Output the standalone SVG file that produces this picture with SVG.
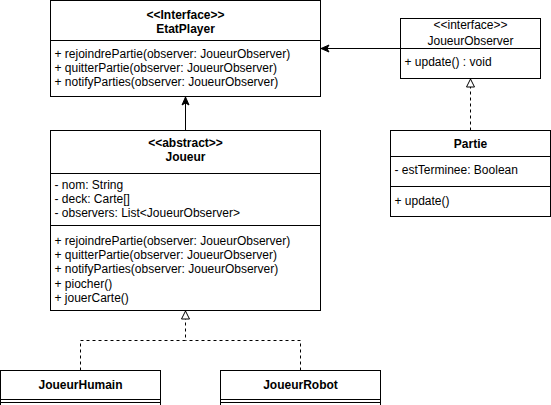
<svg xmlns="http://www.w3.org/2000/svg" width="551" height="405" viewBox="0 0 551 405">
<style>
  .box { fill: #ffffff; stroke: #000000; stroke-width: 1; }
  .sep { stroke: #000000; stroke-width: 1; fill: none; }
  text { font-family: "Liberation Sans", Arial, Helvetica, sans-serif; font-size: 12px; fill: #000000; }
  .c { text-anchor: middle; }
  .b { font-weight: bold; }
  .edge { fill: none; stroke: #000000; stroke-width: 1; }
  .dash { stroke-dasharray: 3 3; }
</style>
<defs>
  <marker id="arrow" markerUnits="userSpaceOnUse" markerWidth="10" markerHeight="10" viewBox="0 0 10 10" refX="9" refY="5" orient="auto">
    <path d="M1,1.5 L9,5 L1,8.5 L3,5 Z" fill="#000000" stroke="#000000" stroke-width="1" stroke-dasharray="none"/>
  </marker>
  <marker id="tri" markerUnits="userSpaceOnUse" markerWidth="12" markerHeight="12" viewBox="0 0 12 12" refX="10" refY="6" orient="auto">
    <path d="M2,2 L10,6 L2,10 Z" fill="#ffffff" stroke="#000000" stroke-width="1" stroke-dasharray="none"/>
  </marker>
</defs>

<g id="connectors">
  <path class="edge" d="M185.5,130.5 L185.5,97" marker-end="url(#arrow)"/>
  <path class="edge" d="M400.5,48.5 L321,48.5" marker-end="url(#arrow)"/>
  <path class="edge dash" d="M470.5,130.5 L470.5,79" marker-end="url(#tri)"/>
  <path class="edge dash" d="M80.5,370.5 L80.5,340.5 L185.5,340.5 L185.5,311" marker-end="url(#tri)"/>
  <path class="edge dash" d="M300.5,370.5 L300.5,340.5 L185.5,340.5"/>
</g>

<g id="EtatPlayer">
  <rect class="box" x="50.5" y="0.5" width="270" height="96"/>
  <line class="sep" x1="50.5" y1="40.5" x2="320.5" y2="40.5"/>
  <text class="c b" x="185.5" y="19">&lt;&lt;Interface&gt;&gt;</text>
  <text class="c b" x="185.5" y="33">EtatPlayer</text>
  <text x="54.5" y="57.5">+ rejoindrePartie(observer: JoueurObserver)</text>
  <text x="54.5" y="71.9">+ quitterPartie(observer: JoueurObserver)</text>
  <text x="54.5" y="86.3">+ notifyParties(observer: JoueurObserver)</text>
</g>

<g id="JoueurObserver">
  <rect class="box" x="400.5" y="18.5" width="140" height="60"/>
  <line class="sep" x1="400.5" y1="48.5" x2="540.5" y2="48.5"/>
  <text class="c" x="470.5" y="28.5">&lt;&lt;interface&gt;&gt;</text>
  <text class="c" x="470.5" y="45">JoueurObserver</text>
  <text x="404.5" y="66">+ update() : void</text>
</g>

<g id="Joueur">
  <rect class="box" x="50.5" y="130.5" width="270" height="180"/>
  <line class="sep" x1="50.5" y1="173.5" x2="320.5" y2="173.5"/>
  <line class="sep" x1="50.5" y1="225.5" x2="320.5" y2="225.5"/>
  <text class="c b" x="185.5" y="147">&lt;&lt;abstract&gt;&gt;</text>
  <text class="c b" x="185.5" y="161">Joueur</text>
  <text x="54.5" y="188.5">- nom: String</text>
  <text x="54.5" y="202.5">- deck: Carte[]</text>
  <text x="54.5" y="216.5">- observers: List&lt;JoueurObserver&gt;</text>
  <text x="54.5" y="244.5">+ rejoindrePartie(observer: JoueurObserver)</text>
  <text x="54.5" y="258.9">+ quitterPartie(observer: JoueurObserver)</text>
  <text x="54.5" y="273.3">+ notifyParties(observer: JoueurObserver)</text>
  <text x="54.5" y="287.7">+ piocher()</text>
  <text x="54.5" y="302.1">+ jouerCarte()</text>
</g>

<g id="Partie">
  <rect class="box" x="390.5" y="130.5" width="160" height="86"/>
  <line class="sep" x1="390.5" y1="156.5" x2="550.5" y2="156.5"/>
  <line class="sep" x1="390.5" y1="186.5" x2="550.5" y2="186.5"/>
  <text class="c b" x="470.5" y="148">Partie</text>
  <text x="394.5" y="173.5">- estTerminee: Boolean</text>
  <text x="394.5" y="205">+ update()</text>
</g>

<g id="JoueurHumain">
  <rect class="box" x="0.5" y="370.5" width="160" height="40"/>
  <line class="sep" x1="0.5" y1="399.5" x2="160.5" y2="399.5"/>
  <line class="sep" x1="0.5" y1="402.5" x2="160.5" y2="402.5"/>
  <text class="c b" x="80.5" y="389">JoueurHumain</text>
</g>

<g id="JoueurRobot">
  <rect class="box" x="220.5" y="370.5" width="160" height="40"/>
  <line class="sep" x1="220.5" y1="399.5" x2="380.5" y2="399.5"/>
  <line class="sep" x1="220.5" y1="402.5" x2="380.5" y2="402.5"/>
  <text class="c b" x="300.5" y="389">JoueurRobot</text>
</g>
</svg>
